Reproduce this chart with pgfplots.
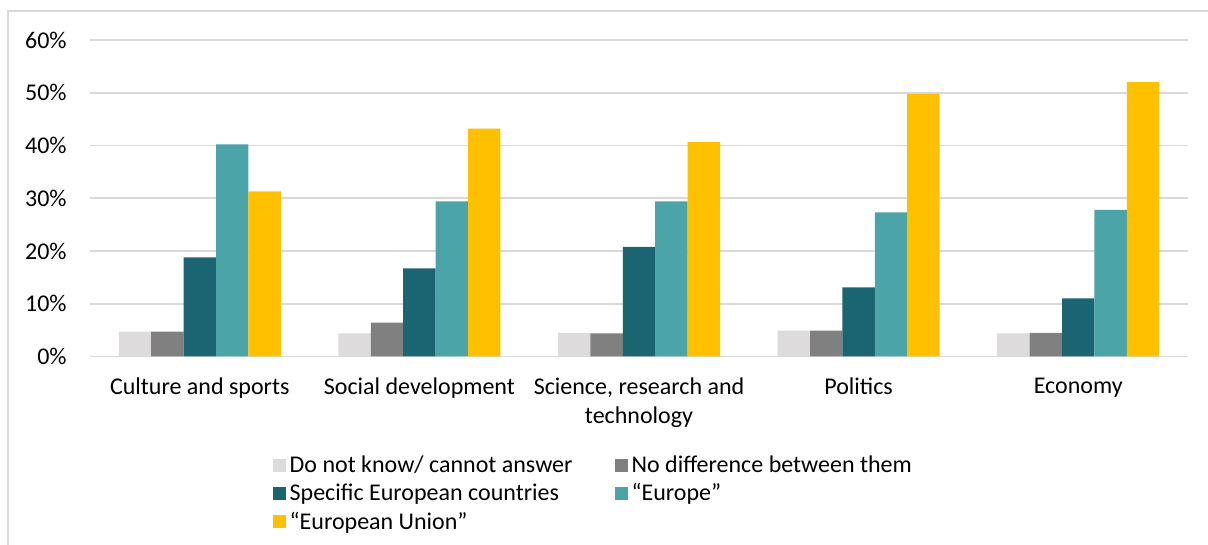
\documentclass[border=0pt]{standalone}
\usepackage{pgfplots}
\pgfplotsset{compat=1.18}
\usepackage{fontspec}
\setmainfont{Carlito}
\definecolor{cLight}{HTML}{DDDBDC}
\definecolor{cGray}{HTML}{808080}
\definecolor{cDark}{HTML}{1B6573}
\definecolor{cTeal}{HTML}{4BA5A8}
\definecolor{cYellow}{HTML}{FFC000}
\definecolor{cGrid}{HTML}{D9D9D9}
\begin{document}
\begin{tikzpicture}
\path[use as bounding box] (0,0) rectangle (604pt,272.5pt);
\draw[cGrid, line width=0.8pt] (4pt,0) -- (4pt,267pt) -- (604pt,267pt);
\begin{axis}[
  at={(45pt,94.25pt)}, anchor=south west,
  scale only axis, width=549pt, height=158.25pt,
  ybar=0pt, bar width=16.2pt,
  xmin=-0.5, xmax=4.5, ymin=0, ymax=60,
  xtick={0,1,2,3,4},
  xticklabels={Culture and sports, Social development, {Science, research and\\technology}, Politics, Economy},
  xticklabel style={align=center, inner sep=0pt, yshift=-10.5pt, font=\fontsize{12}{14.5}\selectfont},
  ytick={0,10,20,30,40,50,60},
  yticklabel={\pgfmathprintnumber{\tick}\%},
  yticklabel style={inner sep=0pt, xshift=-11.5pt, font=\fontsize{12}{14.5}\selectfont},
  /pgf/number format/assume math mode=true,
  ymajorgrids, grid style={cGrid, line width=0.8pt},
  axis line style={draw=none},
  major tick length=0pt,
  legend columns=2,
  legend cell align=left,
  legend style={at={(0.166,-0.30)}, anchor=north west, draw=none, inner sep=0pt,
    font=\fontsize{12}{14}\selectfont,
    /tikz/every even column/.append style={column sep=19pt},
    row sep=0pt},
  legend image code/.code={\fill[#1, draw=none] (0pt,-3.25pt) rectangle (6.5pt,3.25pt);},
]
\addplot[fill=cLight, draw=none] coordinates {(0,4.7) (1,4.4) (2,4.5) (3,4.9) (4,4.4)};
\addplot[fill=cGray, draw=none] coordinates {(0,4.7) (1,6.4) (2,4.4) (3,4.9) (4,4.5)};
\addplot[fill=cDark, draw=none] coordinates {(0,18.8) (1,16.7) (2,20.8) (3,13.1) (4,11.0)};
\addplot[fill=cTeal, draw=none] coordinates {(0,40.2) (1,29.4) (2,29.4) (3,27.3) (4,27.8)};
\addplot[fill=cYellow, draw=none] coordinates {(0,31.3) (1,43.2) (2,40.7) (3,49.8) (4,52.0)};
\legend{Do not know/ cannot answer, No difference between them, Specific European countries, “Europe”, “European Union”}
\end{axis}
\end{tikzpicture}
\end{document}
